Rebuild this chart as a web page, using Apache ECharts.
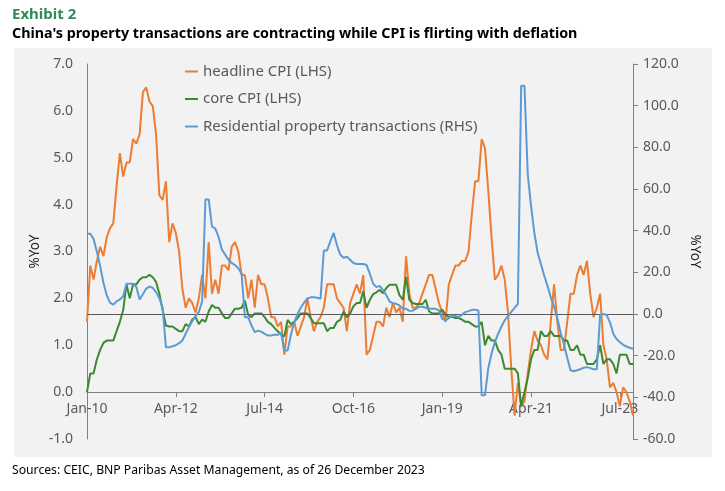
<!DOCTYPE html>
<html>
<head>
<meta charset="utf-8">
<script src="https://cdn.jsdelivr.net/npm/echarts@6/dist/echarts.min.js"></script>
<style>
  html, body { margin: 0; padding: 0; background: #fff; }
  #chart { width: 725px; height: 491px; }
</style>
</head>
<body>
<div id="chart"></div>
<script>
// month labels Jan-10 .. Nov-23
const monthNames = ['Jan', 'Feb', 'Mar', 'Apr', 'May', 'Jun', 'Jul', 'Aug', 'Sep', 'Oct', 'Nov', 'Dec'];
const months = [];
for (let y = 2010; y <= 2023; y++) {
  for (let m = 0; m < 12; m++) {
    if (y === 2023 && m > 10) break;
    months.push(monthNames[m] + '-' + String(y).slice(2));
  }
}

// headline CPI, %YoY (LHS)
const headlineCPI = [
  1.5, 2.7, 2.4, 2.8, 3.1, 2.9, 3.3, 3.5, 3.6, 4.4, 5.1, 4.6,
  4.9, 4.9, 5.4, 5.3, 5.5, 6.4, 6.5, 6.2, 6.1, 5.5, 4.2, 4.1,
  4.5, 3.2, 3.6, 3.4, 3.0, 2.2, 1.8, 2.0, 1.9, 1.7, 2.0, 2.5,
  2.0, 3.2, 2.1, 2.4, 2.1, 2.7, 2.7, 2.6, 3.1, 3.2, 3.0, 2.5,
  2.5, 2.0, 2.4, 1.8, 2.5, 2.3, 2.3, 2.0, 1.6, 1.6, 1.4, 1.5,
  0.8, 1.4, 1.4, 1.5, 1.2, 1.4, 1.6, 2.0, 1.6, 1.3, 1.5, 1.6,
  1.8, 2.3, 2.3, 2.3, 2.0, 1.9, 1.8, 1.3, 1.9, 2.1, 2.3, 2.1,
  2.5, 0.8, 0.9, 1.2, 1.5, 1.5, 1.4, 1.8, 1.6, 1.9, 1.7, 1.8,
  1.5, 2.9, 2.1, 1.8, 1.8, 1.9, 2.1, 2.3, 2.5, 2.5, 2.2, 1.9,
  1.7, 1.5, 2.3, 2.5, 2.7, 2.7, 2.8, 2.8, 3.0, 3.8, 4.5, 4.5,
  5.4, 5.2, 4.3, 3.3, 2.4, 2.5, 2.7, 2.4, 1.7, 0.5, -0.5, 0.2,
  -0.3, -0.2, 0.4, 0.9, 1.3, 1.1, 1.0, 0.8, 0.7, 1.5, 2.3, 1.5,
  0.9, 0.9, 1.5, 2.1, 2.1, 2.5, 2.7, 2.5, 2.8, 2.1, 1.6, 1.8,
  2.1, 1.0, 0.7, 0.1, 0.2, 0.0, -0.3, 0.1, 0.0, -0.2, -0.5
];

// core CPI, %YoY (LHS)
const coreCPI = [
  0.0, 0.4, 0.4, 0.7, 0.9, 1.05, 1.1, 1.1, 1.1, 1.3, 1.5, 1.75,
  2.3, 2.0, 2.3, 2.3, 2.4, 2.45, 2.45, 2.5, 2.45, 2.35, 2.1, 1.75,
  1.42, 1.4, 1.4, 1.35, 1.3, 1.3, 1.45, 1.4, 1.55, 1.6, 1.45, 1.55,
  1.5, 1.72, 1.86, 1.8, 1.8, 1.68, 1.58, 1.58, 1.68, 1.78, 1.78, 1.8,
  1.95, 1.65, 1.6, 1.68, 1.68, 1.68, 1.6, 1.5, 1.45, 1.37, 1.3, 1.23,
  1.19, 1.54, 1.45, 1.5, 1.58, 1.68, 1.68, 1.68, 1.58, 1.47, 1.47, 1.47,
  1.47, 1.3, 1.37, 1.37, 1.5, 1.54, 1.72, 1.6, 1.68, 1.83, 1.9, 1.9,
  2.15, 1.8, 1.97, 2.09, 2.13, 2.18, 2.11, 2.22, 2.29, 2.29, 2.29, 2.07,
  1.97, 2.46, 1.97, 1.9, 1.88, 1.88, 1.88, 1.97, 1.72, 1.68, 1.68, 1.68,
  1.76, 1.65, 1.61, 1.61, 1.58, 1.58, 1.55, 1.5, 1.5, 1.45, 1.4, 1.4,
  1.5, 1.0, 1.2, 1.1, 1.1, 0.9, 0.8, 0.5, 0.5, 0.5, 0.5, 0.4,
  -0.3, 0.0, 0.3, 0.7, 0.9, 0.9, 1.3, 1.2, 1.2, 1.3, 1.2, 1.2,
  1.2, 1.1, 1.1, 0.9, 0.9, 1.0, 0.8, 0.8, 0.6, 0.6, 0.6, 0.7,
  1.0, 0.6, 0.7, 0.7, 0.6, 0.4, 0.8, 0.8, 0.8, 0.6, 0.6
];

// residential property transactions, %YoY (RHS)
const residentialTx = [
  38.5, 38.5, 36, 30, 23, 15, 9, 5.5, 4.5, 6, 7, 8.5,
  14.5, 14.5, 14.5, 13, 7, 9.5, 12.2, 13.2, 12.5, 10.5, 7.5, 3,
  -16, -16, -15.5, -15, -14, -12.7, -9.5, -6.3, -3.5, -1, 1, 6,
  55, 55, 42, 41, 37, 31, 28.5, 26, 24.5, 23.5, 22, 19.3,
  -1.5, -1.5, -5.5, -8.7, -8, -8.5, -9.5, -10.3, -10.3, -10, -10, -9,
  -17.5, -17.5, -10, -4, 0, 3, 5.5, 7.5, 8, 8, 7.8, 7.3,
  30.5, 30.5, 35, 38.9, 33, 28.5, 27, 27.5, 26, 24.5, 24, 24,
  24, 23.5, 19.3, 14.5, 12.9, 13.5, 11.5, 9, 6, 5.2, 4.9, 4.1,
  2.5, 2.5, 1.5, 1.6, 2.5, 3.5, 3.5, 3, 2.5, 2.5, 2.5, 1.7,
  -2.3, -3.1, -2, -0.7, -0.9, -1.5, -0.3, 0.9, 1.4, 2, 2, 1.7,
  -39, -39, -26, -19, -13.5, -9.5, -6, -3, -1, 1, 3, 4.9,
  109.6, 109.6, 67, 52, 39, 29.5, 24, 18.5, 13.5, 8, 3.5, -2,
  -9, -14.5, -21, -27, -27.5, -27, -26.5, -25.8, -25.5, -26, -26.5, -26.5,
  -0.5, 0, -0.5, -4, -9.5, -12, -13.5, -14.8, -15.6, -16.2, -16.7
];

const seriesNames = ['headline CPI (LHS)', 'core CPI (LHS)', 'Residential property transactions (RHS)'];

const FONT = "'Noto Sans', sans-serif";
const chart = echarts.init(document.getElementById('chart'));

// grid: top 64, bottom 439 -> LHS zero sits 1/8 of the height above the bottom
const gridTop = 64, gridBottom = 52, gridH = 491 - gridTop - gridBottom;

const option = {
  animation: false,
  textStyle: { fontFamily: FONT },
  color: ['#ED7D31', '#3B8A33', '#5B9BD5'],
  graphic: [
    {
      type: 'rect', z: -10, silent: true,
      shape: { x: 14, y: 48, width: 698, height: 409 },
      style: { fill: '#f2f2f2' }
    },
    {
      type: 'text', left: 12, top: 7,
      style: { text: 'Exhibit 2', font: "bold 15px 'Noto Sans'", fill: '#2f8a5c' }
    },
    {
      type: 'text', left: 12, top: 27,
      style: {
        text: "China's property transactions are contracting while CPI is flirting with deflation",
        font: "bold 14.3px 'Noto Sans'", fill: '#000'
      }
    },
    {
      type: 'text', left: 12, top: 465,
      style: {
        text: 'Sources: CEIC, BNP Paribas Asset Management, as of 26 December 2023',
        font: "12.2px 'Noto Sans'", fill: '#000'
      }
    }
  ],
  legend: {
    orient: 'vertical',
    left: 185,
    top: 64,
    padding: 0,
    itemGap: 12.5,
    itemWidth: 13,
    itemHeight: 2,
    icon: 'rect',
    selectedMode: false,
    textStyle: { color: '#595959', fontSize: 15, fontFamily: FONT, padding: [0, 0, 0, 0] },
    data: seriesNames
  },
  grid: { left: 87, right: 92, top: gridTop, bottom: gridBottom },
  xAxis: {
    type: 'category',
    data: months,
    boundaryGap: false,
    offset: -gridH / 8,
    axisLine: { onZero: false, lineStyle: { color: '#7f7f7f', width: 1 } },
    axisTick: { interval: 26, length: 5, lineStyle: { color: '#7f7f7f' } },
    axisLabel: { interval: 26, color: '#595959', fontSize: 14, margin: 10 }
  },
  yAxis: [
    {
      type: 'value', min: -1, max: 7, interval: 1,
      name: '%YoY', nameLocation: 'middle', nameRotate: 90, nameGap: 45,
      nameMoveOverlap: false,
      nameTextStyle: { color: '#262626', fontSize: 13.5 },
      axisLine: { show: true, lineStyle: { color: '#7f7f7f' } },
      axisTick: { show: false },
      splitLine: { show: false },
      axisLabel: { color: '#595959', fontSize: 14, margin: 14, formatter: v => v.toFixed(1) }
    },
    {
      type: 'value', min: -60, max: 120, interval: 20,
      name: '%YoY', nameLocation: 'middle', nameRotate: -90, nameGap: 55,
      nameMoveOverlap: false,
      nameTextStyle: { color: '#262626', fontSize: 13.5 },
      axisLine: { show: true, lineStyle: { color: '#7f7f7f' } },
      axisTick: { show: true, length: 5, lineStyle: { color: '#7f7f7f' } },
      splitLine: { show: false },
      axisLabel: { color: '#595959', fontSize: 14, margin: 10, formatter: v => v.toFixed(1) }
    }
  ],
  series: [
    {
      name: seriesNames[0], type: 'line', yAxisIndex: 0, data: headlineCPI,
      showSymbol: false, lineStyle: { width: 2 }, z: 3
    },
    {
      name: seriesNames[1], type: 'line', yAxisIndex: 0, data: coreCPI,
      showSymbol: false, lineStyle: { width: 2 }, z: 4
    },
    {
      name: seriesNames[2], type: 'line', yAxisIndex: 1, data: residentialTx,
      showSymbol: false, lineStyle: { width: 2 }, z: 5,
      markLine: {
        silent: true, symbol: 'none', label: { show: false },
        lineStyle: { color: '#595959', width: 1, type: 'solid' },
        data: [{ yAxis: 0 }]
      }
    }
  ]
};

chart.setOption(option);
</script>
</body>
</html>
